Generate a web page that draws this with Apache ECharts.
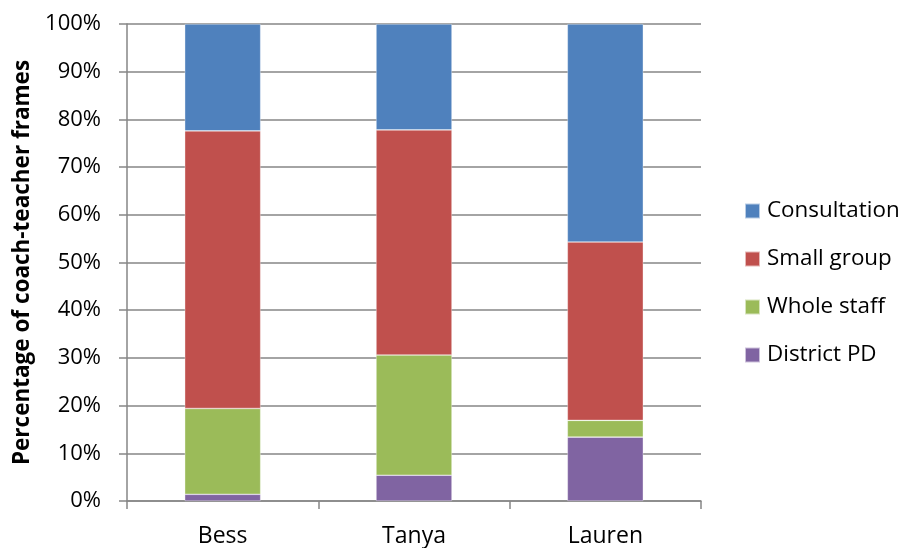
<!DOCTYPE html>
<html>
<head>
<meta charset="utf-8">
<script src="https://cdn.jsdelivr.net/npm/echarts@6/dist/echarts.min.js"></script>
<style>
  html, body { margin: 0; padding: 0; background: #fff; }
  #chart { width: 903px; height: 548px; }
</style>
</head>
<body>
<div id="chart"></div>
<script>
// Coaches on the category axis
const coaches = ['Bess', 'Tanya', 'Lauren'];

// Share of coach-teacher frames per setting (percent of each coach's total)
const districtPD   = [1.4, 5.4, 13.4];
const wholeStaff   = [18.0, 25.2, 3.5];
const smallGroup   = [58.2, 47.2, 37.4];
const consultation = [22.4, 22.2, 45.7];

// Value-axis ticks
const yMin = 0, yMax = 100, yStep = 10;

const FONT = '"Open Sans", sans-serif';
const GRID_GRAY = '#868686';

const chart = echarts.init(document.getElementById('chart'), null, { renderer: 'canvas' });

function stackSeries(name, data, color) {
  return {
    name: name,
    type: 'bar',
    stack: 'share',
    data: data,
    barWidth: '39.7%',
    itemStyle: { color: color, borderColor: 'rgba(255,255,255,0.6)', borderWidth: 0.6 },
    emphasis: { disabled: true }
  };
}

chart.setOption({
  animation: false,
  backgroundColor: '#fff',
  textStyle: { fontFamily: FONT },
  grid: { left: 127, right: 202, top: 24, bottom: 44, containLabel: false },
  legend: {
    orient: 'vertical',
    left: 739,
    top: 194,
    itemWidth: 15,
    itemHeight: 15,
    itemGap: 24,
    icon: 'rect',
    selectedMode: false,
    data: ['Consultation', 'Small group', 'Whole staff', 'District PD'],
    textStyle: { fontFamily: FONT, fontSize: 22.4, color: '#000', lineHeight: 24, padding: [0, 0, 0, 2] }
  },
  xAxis: {
    type: 'category',
    data: coaches,
    axisLine: { show: true, lineStyle: { color: GRID_GRAY, width: 1.5 } },
    axisTick: { show: true, length: 8, alignWithLabel: false, lineStyle: { color: GRID_GRAY, width: 1.5 } },
    axisLabel: { fontFamily: FONT, fontSize: 23, color: '#000', margin: 24 },
    splitLine: { show: false }
  },
  yAxis: {
    type: 'value',
    min: yMin,
    max: yMax,
    interval: yStep,
    name: 'Percentage of coach-teacher frames',
    nameLocation: 'middle',
    nameGap: 89,
    nameTextStyle: { fontFamily: FONT, fontSize: 22.5, fontWeight: 'bold', color: '#000' },
    axisLine: { show: true, lineStyle: { color: GRID_GRAY, width: 1.5 } },
    axisTick: { show: true, length: 8, lineStyle: { color: GRID_GRAY, width: 1.5 } },
    axisLabel: { fontFamily: FONT, fontSize: 22, color: '#000', margin: 26, formatter: '{value}%' },
    splitLine: { show: true, lineStyle: { color: GRID_GRAY, width: 1.5 } }
  },
  series: [
    stackSeries('District PD', districtPD, '#8064A2'),
    stackSeries('Whole staff', wholeStaff, '#9BBB59'),
    stackSeries('Small group', smallGroup, '#C0504D'),
    stackSeries('Consultation', consultation, '#4F81BD')
  ]
});
</script>
</body>
</html>
